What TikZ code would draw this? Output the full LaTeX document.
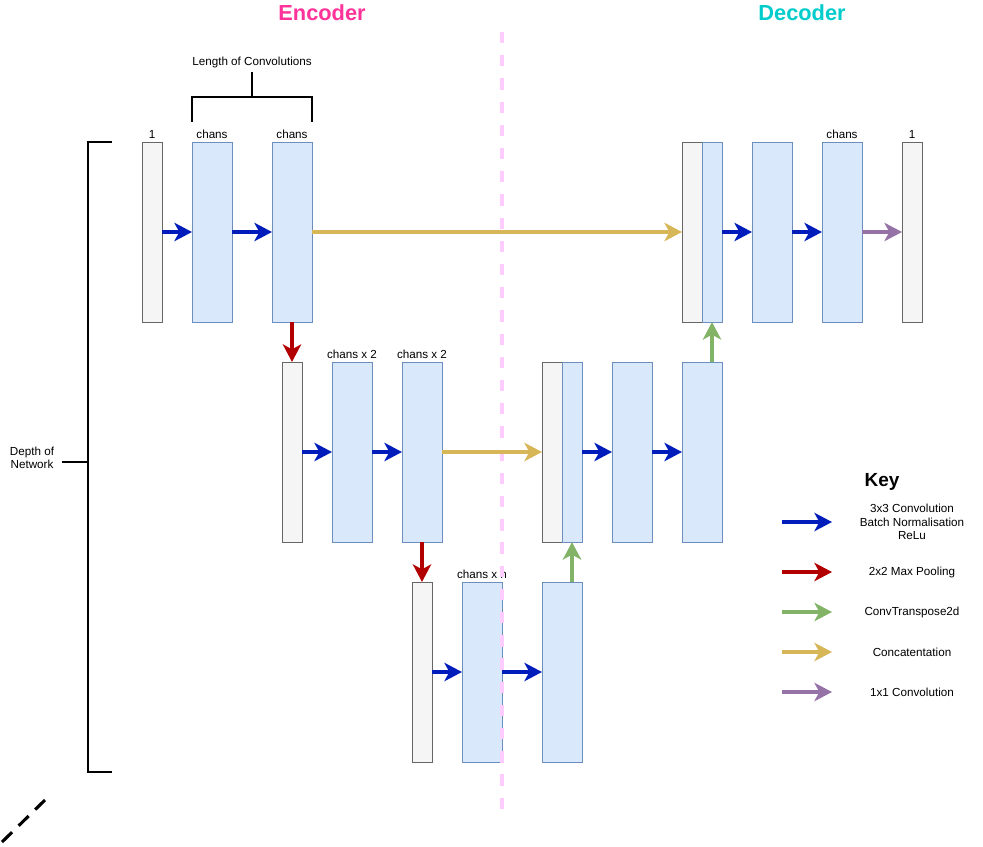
\documentclass[tikz,border=0pt]{standalone}
\usepackage{fontspec}
\setmainfont{Liberation Sans}
\usetikzlibrary{arrows.meta,positioning}
\definecolor{convfill}{HTML}{DAE8FC}
\definecolor{convline}{HTML}{6C8EBF}
\definecolor{infill}{HTML}{F5F5F5}
\definecolor{inline}{HTML}{666666}
\definecolor{blueconv}{HTML}{001DBC}
\definecolor{redpool}{HTML}{B20000}
\definecolor{greenup}{HTML}{82B366}
\definecolor{yellowcat}{HTML}{D6B656}
\definecolor{purpleout}{HTML}{9673A6}
\definecolor{enccol}{HTML}{FF3399}
\definecolor{deccol}{HTML}{00CCCC}
\definecolor{sepcol}{HTML}{FFCCFF}

\begin{document}
\begin{tikzpicture}[x=0.025cm, y=-0.025cm,
	every node/.style={font=\fontsize{8.3}{9.5}\selectfont},
	chan/.style={draw=convline, fill=convfill, line width=0.6pt, minimum width=1cm, minimum height=4.5cm, inner sep=0pt, outer sep=0pt},
	thin chan/.style={chan, minimum width=0.5cm},
	inbox/.style={draw=inline, fill=infill, line width=0.6pt, minimum width=0.5cm, minimum height=4.5cm, inner sep=0pt, outer sep=0pt},
	lbl/.style={inner sep=1.5pt},
	flow/.style={line width=2.3pt, -{Stealth[length=12.5pt, width=13pt, inset=3.5pt]}},
	convarr/.style={flow, draw=blueconv, fill=blueconv},
	poolarr/.style={flow, draw=redpool, fill=redpool},
	uparr/.style={flow, draw=greenup, fill=greenup},
	catarr/.style={flow, draw=yellowcat, fill=yellowcat},
	outarr/.style={flow, draw=purpleout, fill=purpleout},
	bracket/.style={line width=1.4pt}]
				\useasboundingbox (0,0) rectangle (983,846);
				% titles
				\node[font=\fontsize{15.5}{18}\selectfont\bfseries, text=enccol] (enc) at (322,13) {Encoder};
				\node[font=\fontsize{15.5}{18}\selectfont\bfseries, text=deccol] (dec) at (802,13) {Decoder};
				% top level
				\node[inbox] (in1) at (152,232) {};
				\node[chan] (e1a) at (212,232) {};
				\node[chan] (e1b) at (292,232) {};
				\node[inbox] (d1cat) at (692,232) {};
				\node[thin chan] (d1a) at (712,232) {};
				\node[chan] (d1b) at (772,232) {};
				\node[chan] (d1c) at (842,232) {};
				\node[inbox] (out1) at (912,232) {};
				% second level
				\node[inbox] (in2) at (292,452) {};
				\node[chan] (e2a) at (352,452) {};
				\node[chan] (e2b) at (422,452) {};
				\node[inbox] (d2cat) at (552,452) {};
				\node[thin chan] (d2a) at (572,452) {};
				\node[chan] (d2b) at (632,452) {};
				\node[chan] (d2c) at (702,452) {};
				% bottom level
				\node[inbox] (in3) at (422,672) {};
				\node[chan] (e3a) at (482,672) {};
				\node[chan] (e3b) at (562,672) {};
				% channel labels
				\node[lbl, above=1pt of in1] {1};
				\node[lbl, above=1pt of e1a] {chans};
				\node[lbl, above=1pt of e1b] {chans};
				\node[lbl, above=1pt of d1c] {chans};
				\node[lbl, above=1pt of out1] {1};
				\node[lbl, above=1pt of e2a] {chans x 2};
				\node[lbl, above=1pt of e2b] {chans x 2};
				\node[lbl, above=1pt of e3a] {chans x n};
				% encoder / decoder split
				\draw[sepcol, line width=2.2pt, dash pattern=on 8pt off 8.5pt] (502,32) -- (502,812);
				% arrows
				\draw[convarr] (in1) -- (e1a);
				\draw[convarr] (e1a) -- (e1b);
				\draw[catarr] (e1b) -- (d1cat);
				\draw[convarr] (d1a) -- (d1b);
				\draw[convarr] (d1b) -- (d1c);
				\draw[outarr] (d1c) -- (out1);
				\draw[poolarr] (e1b.south) -- (in2.north);
				\draw[uparr] (d1a.south |- d2c.north) -- (d1a.south);
				\draw[convarr] (in2) -- (e2a);
				\draw[convarr] (e2a) -- (e2b);
				\draw[catarr] (e2b) -- (d2cat);
				\draw[convarr] (d2a) -- (d2b);
				\draw[convarr] (d2b) -- (d2c);
				\draw[poolarr] (e2b.south) -- (in3.north);
				\draw[uparr] (d2a.south |- e3b.north) -- (d2a.south);
				\draw[convarr] (in3) -- (e3a);
				\draw[convarr] (e3a) -- (e3b);
				% brackets
				\node (lenlbl) at (252,62) {Length of Convolutions};
				\draw[bracket] (192,122) -- (192,97) -- (312,97) -- (312,122);
				\draw[bracket] (252,97) -- (252,72);
				\node[align=center] (depthlbl) at (32,458) {Depth of\\Network};
				\draw[bracket] (112,142) -- (88,142) -- (88,772) -- (112,772);
				\draw[bracket] (62,462) -- (88,462);
				\draw[line width=2.2pt, dash pattern=on 10pt off 6.5pt] (2,842) -- (45,800);
				% key
				\node[font=\fontsize{13.5}{16}\selectfont\bfseries] (keylbl) at (882,482) {Key};
				\coordinate (k1a) at (782,522); \coordinate (k1b) at (832,522);
				\coordinate (k2a) at (782,572); \coordinate (k2b) at (832,572);
				\coordinate (k3a) at (782,612); \coordinate (k3b) at (832,612);
				\coordinate (k4a) at (782,652); \coordinate (k4b) at (832,652);
				\coordinate (k5a) at (782,692); \coordinate (k5b) at (832,692);
				\draw[convarr] (k1a) -- (k1b);
				\draw[poolarr] (k2a) -- (k2b);
				\draw[uparr] (k3a) -- (k3b);
				\draw[catarr] (k4a) -- (k4b);
				\draw[outarr] (k5a) -- (k5b);
				\node[align=center] (k1txt) at (912,522) {3x3 Convolution\\Batch Normalisation\\ReLu};
				\node (k2txt) at (912,572) {2x2 Max Pooling};
				\node (k3txt) at (912,612) {ConvTranspose2d};
				\node (k4txt) at (912,652) {Concatentation};
				\node (k5txt) at (912,692) {1x1 Convolution};
			\end{tikzpicture}
\end{document}
